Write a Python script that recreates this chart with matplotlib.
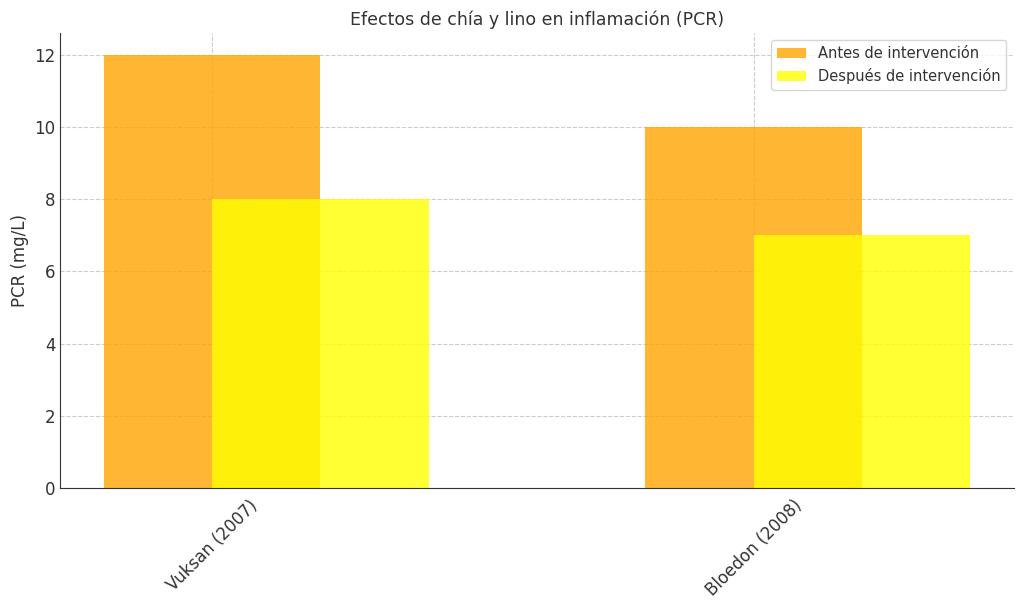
import matplotlib
matplotlib.use("Agg")
import matplotlib.pyplot as plt
import numpy as np

studies = ["Vuksan (2007)", "Bloedon (2008)"]
antes = [12, 10]
despues = [8, 7]
labels = ["Antes de intervención", "Después de intervención"]

plt.rcParams['font.family'] = ['DejaVu Sans']
plt.rcParams['text.color'] = '#333333'
plt.rcParams['axes.labelcolor'] = '#333333'
plt.rcParams['xtick.color'] = '#333333'
plt.rcParams['ytick.color'] = '#333333'

fig, ax = plt.subplots(figsize=(10.24, 6.1), dpi=100)
x = np.arange(len(studies))
w = 0.4
ax.bar(x, antes, w, color='orange', alpha=0.8, label=labels[0])
ax.bar(x + w / 2, despues, w, color='yellow', alpha=0.8, label=labels[1])

ax.set_xticks(x)
ax.set_xticklabels(studies, rotation=45, fontsize=12)
ax.tick_params(axis='y', labelsize=12, length=0)
ax.tick_params(axis='x', length=0, pad=6)
ax.set_ylabel("PCR (mg/L)", fontsize=12)
ax.set_title("Efectos de chía y lino en inflamación (PCR)", fontsize=12.5)
ax.grid(True, linestyle='--', color='#cccccc', linewidth=0.8)
ax.set_axisbelow(True)
for s in ['top', 'right']:
    ax.spines[s].set_visible(False)
ax.spines['left'].set_color('#333333')
ax.spines['bottom'].set_color('#333333')
ax.legend(fontsize=10.5, loc='upper right')

fig.subplots_adjust(left=0.059, right=0.99, top=0.946, bottom=0.2)
fig.savefig("out.png", dpi=100)
